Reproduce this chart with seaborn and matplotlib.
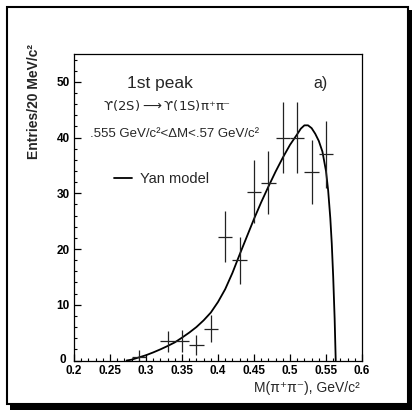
import matplotlib
matplotlib.use("Agg")
import matplotlib.pyplot as plt
import matplotlib.transforms as mtransforms
import numpy as np
import pandas as pd
import seaborn as sns
from matplotlib.ticker import MultipleLocator
from matplotlib.patches import Rectangle

# Measured M(pi+pi-) spectrum, 20 MeV/c^2 bins
mass = [0.29, 0.33, 0.35, 0.37, 0.39, 0.41, 0.43, 0.45, 0.47, 0.49, 0.51, 0.53, 0.55]
entries = [0.7, 3.45, 3.55, 2.8, 5.7, 22.2, 18.0, 30.3, 31.9, 40.0, 40.0, 33.8, 37.0]
entries_err = [1.2, 1.85, 1.95, 1.8, 2.4, 4.6, 4.2, 5.6, 5.65, 6.3, 6.3, 5.8, 6.0]
half_bin = 0.01

# Yan model prediction
yan_mass = [0.273, 0.28, 0.29, 0.30, 0.31, 0.32, 0.33, 0.34, 0.35, 0.36, 0.37,
            0.38, 0.39, 0.40, 0.41, 0.42, 0.43, 0.44, 0.45, 0.46, 0.47, 0.48,
            0.49, 0.50, 0.51, 0.515, 0.52, 0.525, 0.53, 0.535, 0.54, 0.545,
            0.55, 0.553, 0.556, 0.558, 0.560, 0.562, 0.5635]
yan_entries = [0.0, 0.15, 0.55, 0.95, 1.45, 2.0, 2.6, 3.25, 4.1, 5.0, 6.0,
               7.2, 8.6, 10.5, 12.8, 15.7, 19.0, 22.2, 25.4, 28.4, 31.2, 33.9,
               36.4, 38.7, 40.6, 41.6, 42.2, 42.2, 41.7, 40.7, 39.4, 37.5,
               34.0, 30.5, 25.5, 21.0, 15.0, 7.5, 0.0]

x_ticks = [0.2, 0.25, 0.3, 0.35, 0.4, 0.45, 0.5, 0.55, 0.6]
x_ticklabels = ["0.2", "0.25", "0.3", "0.35", "0.4", "0.45", "0.5", "0.55", "0.6"]
y_ticks = [0, 10, 20, 30, 40, 50]

sns.set_theme(style="white")
plt.rcParams["font.family"] = ["Liberation Sans", "DejaVu Sans"]
plt.rcParams["mathtext.fontset"] = "dejavusans"

W, H = 412, 411
fig = plt.figure(figsize=(W / 100, H / 100), dpi=100)
fig.patch.set_facecolor("white")


def fx(px):
    return px / W


def fy(py):
    return 1 - py / H


# page frame with a drop shadow
fig.patches.append(Rectangle((fx(10), fy(410)), fx(402), 400 / H,
                             transform=fig.transFigure, facecolor="black",
                             edgecolor="none", zorder=0))
fig.patches.append(Rectangle((fx(7.5), fy(404)), fx(400.5), 396.5 / H,
                             transform=fig.transFigure, facecolor="white",
                             edgecolor="black", linewidth=1.5, zorder=1))

ax = fig.add_axes([fx(74), fy(360.5), fx(288), (360.5 - 54) / H])
ax.set_zorder(2)
ax.set_facecolor("white")

df_yan = pd.DataFrame({"mass": yan_mass, "entries": yan_entries})
sns.lineplot(data=df_yan, x="mass", y="entries", ax=ax, color="black",
             linewidth=1.3, sort=False, label="Yan model")

ax.errorbar(mass, entries, yerr=entries_err, xerr=half_bin, fmt="none",
            ecolor="#222222", elinewidth=0.9, capsize=0)

ax.set_xlim(0.2, 0.6)
ax.set_ylim(0, 55)
ax.set_xticks(x_ticks)
ax.set_xticklabels(x_ticklabels)
ax.set_yticks(y_ticks)
ax.xaxis.set_minor_locator(MultipleLocator(0.01))
ax.yaxis.set_minor_locator(MultipleLocator(2))
ax.tick_params(axis="both", which="both", direction="in", colors="black",
               top=False, right=False, left=True, bottom=True)
ax.tick_params(which="major", length=5, width=0.9, labelsize=8.5, pad=3)
ax.tick_params(which="minor", length=2.5, width=0.8)
for lab in ax.get_xticklabels() + ax.get_yticklabels():
    lab.set_fontweight("bold")
# the zero of the y axis sits up and left of the x axis origin label
zero_lab = ax.get_yticklabels()[0]
zero_lab.set_transform(zero_lab.get_transform() +
                       mtransforms.ScaledTranslation(-4 / 100, 2 / 100,
                                                     fig.dpi_scale_trans))
for s in ax.spines.values():
    s.set_color("black")
    s.set_linewidth(0.9)
ax.set_xlabel("")
ax.set_ylabel("")

leg = ax.legend(loc="center left", bbox_to_anchor=(0.139, 0.592),
                frameon=False, borderpad=0, borderaxespad=0,
                handlelength=1.25, handletextpad=0.55, fontsize=10.5)

fig.text(fx(127), fy(88), "1st peak", fontsize=12.5, va="baseline", ha="left")
fig.text(fx(313), fy(88), "a)", fontsize=11.5, va="baseline", ha="left")
fig.text(fx(103), fy(110), "ϒ(2S)$\\longrightarrow$ϒ(1S)π⁺π⁻", fontsize=9.5,
         family="DejaVu Sans", va="baseline", ha="left")
fig.text(fx(90), fy(137), ".555 GeV/c²<ΔM<.57 GeV/c²", fontsize=9.5,
         va="baseline", ha="left")
fig.text(fx(360), fy(392), "M(π⁺π⁻), GeV/c²", fontsize=10,
         va="baseline", ha="right")
fig.text(fx(34), fy(44), "Entries/20 MeV/c²", fontsize=10, fontweight="bold",
         rotation=90, va="top", ha="center")

fig.savefig("out.png", dpi=100, facecolor="white")
